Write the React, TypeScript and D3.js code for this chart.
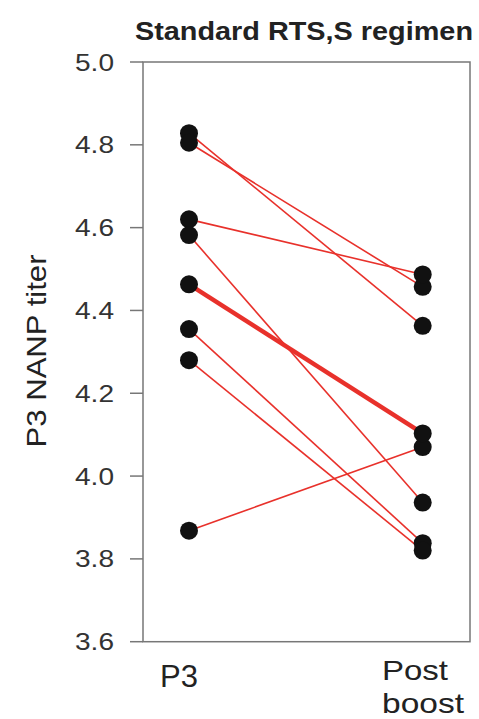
import React from "react";
import * as d3 from "d3";

const groups = ["P3", "Post boost"];
const p3Values = [4.828, 4.805, 4.62, 4.582, 4.355, 4.28, 3.868];
const postValues = [4.363, 4.457, 4.487, 3.936, 3.838, 3.82, 4.07];
const meanValues = [4.463, 4.103];
const yTicks = [3.6, 3.8, 4.0, 4.2, 4.4, 4.6, 4.8, 5.0];

const W = 479;
const H = 719;
const left = 143;
const right = 470;
const top = 62;
const bottom = 641.7;

export default function App() {
  const y = d3.scaleLinear().domain([3.6, 5.0]).range([bottom, top]);
  const x = d3.scalePoint<string>().domain(groups).range([189, 422.7]);
  const line = d3
    .line<[string, number]>()
    .x((d) => x(d[0]) as number)
    .y((d) => y(d[1]));
  const red = "#e8312b";
  const font = "'Liberation Sans', Arial, sans-serif";
  return (
    <svg
      width={W}
      height={H}
      style={{ position: "absolute", left: 0, top: 0, background: "#fff" }}
    >
      <text
        x={304}
        y={39.5}
        textAnchor="middle"
        fontFamily={font}
        fontWeight="bold"
        fontSize={25}
        fill="#222"
        textLength={338}
        lengthAdjust="spacingAndGlyphs"
      >
        Standard RTS,S regimen
      </text>
      <rect
        x={left}
        y={top}
        width={right - left}
        height={bottom - top}
        fill="none"
        stroke="#777"
        strokeWidth={1.5}
      />
      {yTicks.map((t) => (
        <g key={t}>
          <line x1={130} x2={left} y1={y(t)} y2={y(t)} stroke="#777" strokeWidth={1.5} />
          <text
            x={114}
            y={y(t) + 8.5}
            textAnchor="end"
            fontFamily={font}
            fontSize={23}
            fill="#333"
            textLength={39}
            lengthAdjust="spacingAndGlyphs"
          >
            {d3.format(".1f")(t)}
          </text>
        </g>
      ))}
      <text
        transform="translate(46,351) rotate(-90)"
        textAnchor="middle"
        fontFamily={font}
        fontSize={28}
        fill="#222"
        textLength={193}
        lengthAdjust="spacingAndGlyphs"
      >
        P3 NANP titer
      </text>
      <text x={179} y={687} textAnchor="middle" fontFamily={font} fontSize={31} fill="#222">
        P3
      </text>
      <text
        x={382}
        y={680}
        fontFamily={font}
        fontSize={28}
        fill="#222"
        textLength={66}
        lengthAdjust="spacingAndGlyphs"
      >
        Post
      </text>
      <text
        x={382}
        y={713}
        fontFamily={font}
        fontSize={28}
        fill="#222"
        textLength={82}
        lengthAdjust="spacingAndGlyphs"
      >
        boost
      </text>
      {p3Values.map((v, i) => (
        <path
          key={"l" + i}
          d={line([
            [groups[0], v],
            [groups[1], postValues[i]],
          ]) as string}
          stroke={red}
          strokeWidth={1.6}
          fill="none"
        />
      ))}
      <path
        d={line([
          [groups[0], meanValues[0]],
          [groups[1], meanValues[1]],
        ]) as string}
        stroke={red}
        strokeWidth={4.5}
        fill="none"
      />
      {[...p3Values, meanValues[0]].map((v, i) => (
        <circle key={"a" + i} cx={x(groups[0])} cy={y(v)} r={9} fill="#111" />
      ))}
      {[...postValues, meanValues[1]].map((v, i) => (
        <circle key={"b" + i} cx={x(groups[1])} cy={y(v)} r={9} fill="#111" />
      ))}
    </svg>
  );
}
